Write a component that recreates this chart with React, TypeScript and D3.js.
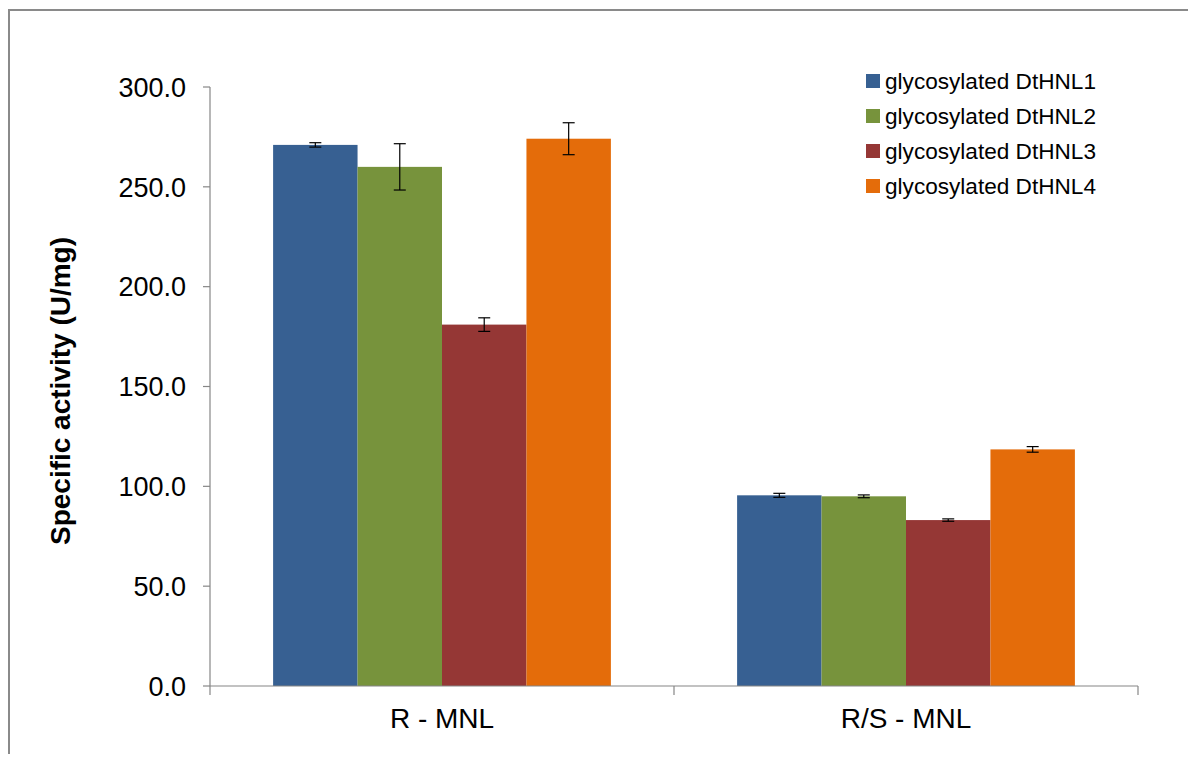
import React from "react";
import * as d3 from "d3";

const categories = ["R - MNL", "R/S - MNL"];
const seriesNames = [
  "glycosylated DtHNL1",
  "glycosylated DtHNL2",
  "glycosylated DtHNL3",
  "glycosylated DtHNL4",
];
const seriesColors = ["#376092", "#77933C", "#953735", "#E46C0A"];
// values per series: [R - MNL, R/S - MNL]
const dthnl1 = [271.0, 95.5];
const dthnl2 = [260.0, 95.0];
const dthnl3 = [181.0, 83.1];
const dthnl4 = [274.1, 118.5];
const err1 = [1.1, 1.0];
const err2 = [11.6, 0.7];
const err3 = [3.4, 0.6];
const err4 = [8.0, 1.4];
const yTicks = [0, 50, 100, 150, 200, 250, 300];

const values = [dthnl1, dthnl2, dthnl3, dthnl4];
const errors = [err1, err2, err3, err4];

const W = 1196;
const H = 762;
const plot = { left: 210, right: 1138, top: 87, bottom: 686 };
const FONT = "'Liberation Sans', Arial, sans-serif";

export default function App() {
  const y = d3.scaleLinear().domain([0, 300]).range([plot.bottom, plot.top]);
  const x0 = d3
    .scaleBand<string>()
    .domain(categories)
    .range([plot.left, plot.right])
    .paddingInner(0)
    .paddingOuter(0);
  const band = x0.bandwidth();
  const groupPad = band * 0.136; // gap on each side of a cluster
  const x1 = d3
    .scaleBand<number>()
    .domain(d3.range(seriesNames.length))
    .range([groupPad, band - groupPad])
    .padding(0);

  const axisColor = "#868686";

  return (
    <div style={{ margin: -8 }}>
      <svg width={W} height={H} style={{ display: "block" }}>
        <rect x={0} y={0} width={W} height={H} fill="#fff" />
        {/* outer chart frame */}
        <path d={`M9,${H} L9,10 L${W},10`} fill="none" stroke="#8a8a8a" strokeWidth={2} />

        {/* bars */}
        {categories.map((c, ci) => (
          <g key={c} transform={`translate(${x0(c)},0)`}>
            {values.map((s, si) => (
              <rect
                key={si}
                x={x1(si)}
                y={y(s[ci])}
                width={x1.bandwidth()}
                height={y(0) - y(s[ci])}
                fill={seriesColors[si]}
              />
            ))}
          </g>
        ))}

        {/* error bars */}
        {categories.map((c, ci) => (
          <g key={c + "e"} transform={`translate(${x0(c)},0)`}>
            {values.map((s, si) => {
              const cx = (x1(si) as number) + x1.bandwidth() / 2;
              const hi = y(s[ci] + errors[si][ci]);
              const lo = y(s[ci] - errors[si][ci]);
              return (
                <g key={si} stroke="#000" strokeWidth={1.2}>
                  <line x1={cx} x2={cx} y1={hi} y2={lo} />
                  <line x1={cx - 6} x2={cx + 6} y1={hi} y2={hi} />
                  <line x1={cx - 6} x2={cx + 6} y1={lo} y2={lo} />
                </g>
              );
            })}
          </g>
        ))}

        {/* y axis */}
        <line x1={plot.left} x2={plot.left} y1={plot.top} y2={plot.bottom} stroke={axisColor} strokeWidth={1.2} />
        {yTicks.map((t) => (
          <g key={t}>
            <line x1={plot.left - 7} x2={plot.left} y1={y(t)} y2={y(t)} stroke={axisColor} strokeWidth={1.2} />
            <text
              x={186}
              y={y(t)}
              dy="0.36em"
              textAnchor="end"
              fontFamily={FONT}
              fontSize={27}
              fill="#000"
            >
              {t.toFixed(1)}
            </text>
          </g>
        ))}

        {/* x axis */}
        <line x1={plot.left} x2={plot.right} y1={plot.bottom} y2={plot.bottom} stroke={axisColor} strokeWidth={1.2} />
        {[plot.left, ...categories.map((c) => (x0(c) as number) + band)].map((tx, i) => (
          <line key={i} x1={tx} x2={tx} y1={plot.bottom} y2={plot.bottom + 9} stroke={axisColor} strokeWidth={1.2} />
        ))}
        {categories.map((c) => (
          <text
            key={c}
            x={(x0(c) as number) + band / 2}
            y={728}
            textAnchor="middle"
            fontFamily={FONT}
            fontSize={28}
            fill="#000"
          >
            {c}
          </text>
        ))}

        {/* y axis title */}
        <text
          transform={`translate(70,391) rotate(-90)`}
          textAnchor="middle"
          fontFamily={FONT}
          fontSize={28}
          fontWeight="bold"
          fill="#000"
        >
          Specific activity (U/mg)
        </text>

        {/* legend */}
        {seriesNames.map((n, i) => (
          <g key={n} transform={`translate(866,${81 + i * 35})`}>
            <rect x={0} y={-7} width={14} height={14} fill={seriesColors[i]} />
            <text x={19} y={0} dy="0.36em" fontFamily={FONT} fontSize={22.6} fill="#000">
              {n}
            </text>
          </g>
        ))}
      </svg>
    </div>
  );
}
